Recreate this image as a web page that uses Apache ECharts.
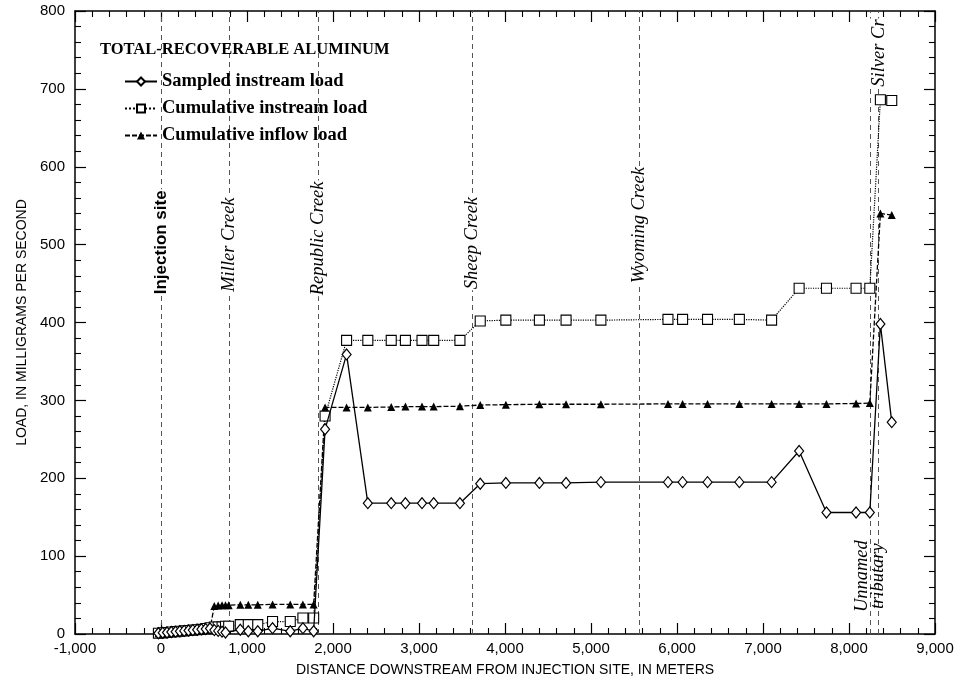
<!DOCTYPE html>
<html>
<head>
<meta charset="utf-8">
<script src="https://cdn.jsdelivr.net/npm/echarts@6/dist/echarts.min.js"></script>
<style>
  html, body { margin: 0; padding: 0; background: #fff; }
  #chart { width: 961px; height: 685px; }
</style>
</head>
<body>
<div id="chart"></div>
<script>
// Sampling sites, distance downstream from the injection site (meters)
const distanceM = [
  -30, 20, 70, 120, 170, 220, 270, 320, 370, 420, 470, 520, 570,
  620, 665, 710, 750, 787, 922, 1015, 1125, 1297, 1503, 1650, 1775,
  1908, 2158, 2405, 2677, 2842, 3035, 3171, 3476,
  3712, 4010, 4400, 4710, 5115, 5895, 6065, 6355, 6725, 7100,
  7420, 7738, 8082, 8242, 8365, 8497
];

// Total-recoverable aluminum loads (mg/s) at each site
const sampledInstream = [
  1, 1.5, 2, 2.5, 3, 3.5, 4, 4.5, 5, 5.5, 6, 6.5, 7,
  5, 4, 3, 2, null, 5.5, 3.5, 3.5, 7.5, 3.5, 7.5, 3.5,
  263, 359, 168, 168, 168, 168, 168, 168,
  193, 194, 194, 194, 195, 195, 195, 195, 195, 195,
  235, 156, 156, 156, 398, 272
];
const cumulativeInstream = [
  1, 1.5, 2, 2.5, 3, 3.5, 4, 4.5, 5, 5.5, 6, 7, 8,
  9, 9, 9, 10, 10, 12, 12, 12, 16, 16, 20.5, 20.5,
  280, 377, 377, 377, 377, 377, 377, 377,
  402, 403, 403, 403, 403, 404, 404, 404, 404, 403,
  444, 444, 444, 444, 686, 685
];
const cumulativeInflow = [
  0.5, 1, 1.5, 2, 2.5, 3, 3.5, 4, 4.5, 5, 5.5, 6, 7,
  36, 36.5, 37, 37, 37, 37.5, 37.5, 37.5, 38, 38, 38, 38,
  291, 291, 291, 291.5, 292, 292, 292, 292.5,
  294, 294.5, 295, 295, 295, 295.5, 295.5, 295.5, 295.5, 295.5,
  295.5, 295.5, 296, 296.5, 540, 538
];

// Tributaries and landmarks along the stream
const landmarkNames = ['Injection site', 'Miller Creek', 'Republic Creek', 'Sheep Creek',
                       'Wyoming Creek', 'Unnamed\ntributary', 'Silver Cr'];
const landmarkDistanceM = [0, 790, 1827, 3615, 5560, 8250, 8345];

const seriesNames = ['Sampled instream load', 'Cumulative instream load', 'Cumulative inflow load'];

const xTickValues = [-1000, 0, 1000, 2000, 3000, 4000, 5000, 6000, 7000, 8000, 9000];
const yTickValues = [0, 100, 200, 300, 400, 500, 600, 700, 800];

// ---- layout -------------------------------------------------------------
// load level (mg/s) at which each landmark name is centred on its line
const landmarkLabelLoad = [503, 500, 508, 502, 525, 82, 746];

const pairs = (ys) => distanceM.map((x, i) => [x, ys[i]]);
const fmtThousands = (v) => (v < 0 ? '-' : '') + String(Math.abs(v)).replace(/\B(?=(\d{3})+(?!\d))/g, ',');

const sansFont = 'Liberation Sans';
const serifFont = 'Liberation Serif';

const tickStyle = { inside: true, length: 11, lineStyle: { color: '#000', width: 1.2 } };
const minorStyle = { show: true, splitNumber: 5, length: 6, lineStyle: { color: '#000', width: 1.1 } };
const axisLine = { show: true, onZero: false, lineStyle: { color: '#000', width: 1.5 } };

const xBase = {
  type: 'value', min: xTickValues[0], max: xTickValues[xTickValues.length - 1],
  interval: 1000, axisLine, axisTick: tickStyle, minorTick: minorStyle, splitLine: { show: false }
};
const yBase = {
  type: 'value', min: yTickValues[0], max: yTickValues[yTickValues.length - 1],
  interval: 100, axisLine, axisTick: tickStyle, minorTick: minorStyle, splitLine: { show: false }
};

const landmarkLabel = (i) => {
  const isSite = i === 0;
  const twoLine = landmarkNames[i].indexOf('\n') >= 0;
  return {
    show: true,
    position: 'inside',
    rotate: 90,
    formatter: landmarkNames[i],
    color: '#000',
    opacity: 1,
    fontFamily: isSite ? sansFont : serifFont,
    fontWeight: isSite ? 'bold' : 'normal',
    fontStyle: isSite ? 'normal' : 'italic',
    fontSize: isSite ? 17 : 18.5,
    lineHeight: 16,
    backgroundColor: twoLine ? 'transparent' : '#fff',
    padding: [3, 1],
    offset: twoLine ? [-6, 0] : [0, 0]
  };
};

const chart = echarts.init(document.getElementById('chart'), null, { renderer: 'canvas' });

chart.setOption({
  backgroundColor: '#fff',
  animation: false,
  title: {
    text: 'TOTAL-RECOVERABLE ALUMINUM',
    left: 95, top: 36,
    textStyle: { fontFamily: serifFont, fontWeight: 'bold', fontSize: 16.5, color: '#000' }
  },
  legend: {
    data: seriesNames,
    orient: 'vertical',
    left: 119, top: 67,
    itemWidth: 32, itemHeight: 10, itemGap: 8,
    selectedMode: false,
    textStyle: { fontFamily: serifFont, fontWeight: 'bold', fontSize: 18.5, color: '#000' }
  },
  grid: { left: 75, right: 26, top: 11, bottom: 51 },
  xAxis: [
    Object.assign({}, xBase, {
      position: 'bottom',
      name: 'DISTANCE DOWNSTREAM FROM INJECTION SITE, IN METERS',
      nameLocation: 'middle', nameGap: 29,
      nameTextStyle: { fontFamily: sansFont, fontSize: 14, color: '#000' },
      axisLabel: { show: true, margin: 7, fontFamily: sansFont, fontSize: 15, color: '#000', formatter: fmtThousands }
    }),
    Object.assign({}, xBase, { position: 'top', axisLabel: { show: false } })
  ],
  yAxis: [
    Object.assign({}, yBase, {
      position: 'left',
      name: 'LOAD, IN MILLIGRAMS PER SECOND',
      nameLocation: 'middle', nameGap: 43, nameRotate: 90,
      nameTextStyle: { fontFamily: sansFont, fontSize: 14, color: '#000' },
      axisLabel: { show: true, margin: 10, fontFamily: sansFont, fontSize: 15, color: '#000' }
    }),
    Object.assign({}, yBase, { position: 'right', axisLabel: { show: false } })
  ],
  series: [
    {
      name: 'landmarks',
      type: 'scatter',
      z: 4,
      silent: true,
      symbolSize: 1,
      itemStyle: { color: 'rgba(0,0,0,0)', opacity: 1 },
      data: landmarkDistanceM.map((x, i) => ({ value: [x, landmarkLabelLoad[i]], label: landmarkLabel(i) })),
      markLine: {
        z: 1,
        silent: true,
        symbol: ['none', 'none'],
        label: { show: false },
        lineStyle: { color: '#555', type: [5, 4], width: 1 },
        data: landmarkDistanceM.map((x) => ({ xAxis: x }))
      }
    },
    {
      name: seriesNames[0],
      type: 'line',
      z: 3,
      data: pairs(sampledInstream),
      connectNulls: true,
      showAllSymbol: true,
      symbol: 'diamond',
      symbolSize: [9, 11],
      lineStyle: { color: '#000', width: 1.3, type: 'solid' },
      itemStyle: { color: '#fff', borderColor: '#000', borderWidth: 1.2 }
    },
    {
      name: seriesNames[1],
      type: 'line',
      z: 2,
      data: pairs(cumulativeInstream),
      connectNulls: true,
      showAllSymbol: true,
      symbol: 'rect',
      symbolSize: 10,
      lineStyle: { color: '#000', width: 1.2, type: 'dotted' },
      itemStyle: { color: '#fff', borderColor: '#000', borderWidth: 1.1 }
    },
    {
      name: seriesNames[2],
      type: 'line',
      z: 2,
      data: pairs(cumulativeInflow),
      connectNulls: true,
      showAllSymbol: true,
      symbol: 'triangle',
      symbolSize: 8,
      lineStyle: { color: '#000', width: 1.3, type: [5, 2] },
      itemStyle: { color: '#000', borderColor: '#000', borderWidth: 0 }
    }
  ]
});
</script>
</body>
</html>
